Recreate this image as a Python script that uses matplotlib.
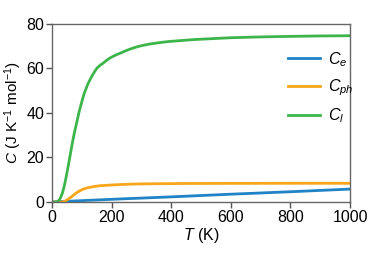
import matplotlib
matplotlib.use('Agg')
import matplotlib.pyplot as plt

plt.rcParams['font.family'] = ['Liberation Sans', 'DejaVu Sans']
plt.rcParams['mathtext.fontset'] = 'custom'
plt.rcParams['mathtext.rm'] = 'Liberation Sans'
plt.rcParams['mathtext.it'] = 'Liberation Sans:italic'

# temperature (K) and heat capacities (J K^-1 mol^-1)
T_lat = [0, 18, 25, 30, 35, 40, 45, 50, 55, 62, 69, 75, 80, 86, 91, 97, 102,
         108, 115, 121, 127, 135, 144, 152, 163, 171, 180, 190, 200, 215, 228,
         245, 258, 275, 290, 310, 325, 360, 392, 440, 480, 540, 600, 680, 750,
         820, 900, 1000]
C_lat = [0, 0, 1.0, 2.3, 4.0, 6.5, 9.5, 13, 16.5, 21.8, 27, 31, 34, 37.5,
         40.5, 43.5, 46, 48.7, 51.2, 53.2, 54.8, 56.8, 58.8, 60.3, 61.6, 62.3,
         63.3, 64.3, 65.1, 66.1, 66.8, 67.8, 68.5, 69.3, 69.9, 70.5, 70.9,
         71.6, 72.1, 72.6, 73, 73.4, 73.8, 74.1, 74.3, 74.45, 74.6, 74.7]

T_ph = [0, 36, 42, 50, 58, 65, 72, 80, 90, 105, 120, 139, 160, 195, 240, 285,
        350, 450, 600, 800, 1000]
C_ph = [0, 0, 0.3, 0.9, 1.6, 2.3, 3.1, 3.9, 4.8, 5.8, 6.4, 6.9, 7.3, 7.6, 7.9,
        8.1, 8.2, 8.3, 8.35, 8.4, 8.4]

T_el = [0, 200, 400, 600, 800, 1000]
C_el = [0, 1.2, 2.3, 3.5, 4.6, 5.8]

colors = {'e': '#1f83c6', 'ph': '#f9a61a', 'l': '#3db54a'}

fig = plt.figure(figsize=(3.74, 2.63), dpi=100)
ax = fig.add_axes([0.139, 0.232, 0.797, 0.677])

ax.plot(T_el, C_el, color=colors['e'], lw=2, label=r'$C_{e}$')
ax.plot(T_ph, C_ph, color=colors['ph'], lw=2, label=r'$C_{ph}$')
ax.plot(T_lat, C_lat, color=colors['l'], lw=2, label=r'$C_{l}$')

ax.set_xlim(0, 1000)
ax.set_ylim(0, 80)
ax.set_xticks([0, 200, 400, 600, 800, 1000])
ax.set_yticks([0, 20, 40, 60, 80])
ax.tick_params(direction='out', length=4, width=1, color='#555555',
               labelsize=11.5, pad=1.5)
for sp in ax.spines.values():
    sp.set_color('#666666')
    sp.set_linewidth(1)

ax.set_xlabel(r'$T$ (K)', fontsize=11.5, labelpad=1)
ax.set_ylabel(r'$C$ (J K$^{-1}$ mol$^{-1}$)', fontsize=11, labelpad=2)

ax.legend(loc='upper left', bbox_to_anchor=(0.77, 0.89), frameon=False,
          fontsize=11.5, handlelength=2.0, handletextpad=0.5,
          labelspacing=0.55, borderaxespad=0)

fig.savefig('out.png', dpi=100)
